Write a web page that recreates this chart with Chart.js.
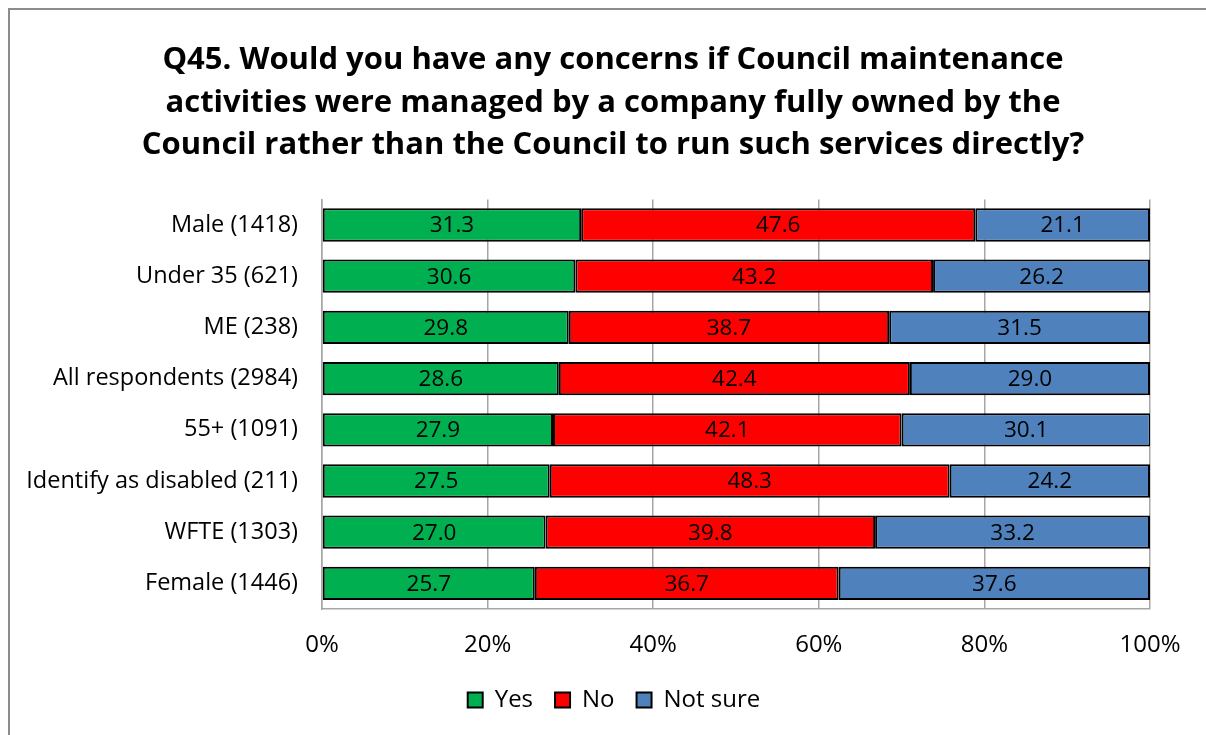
<!DOCTYPE html>
<html>
<head>
<meta charset="utf-8">
<script src="https://cdn.jsdelivr.net/npm/chart.js@4"></script>
<style>
    html, body { margin: 0; padding: 0; background: #fff; overflow: hidden; }
    #wrap { position: relative; width: 1206px; height: 735px; }
    #frame { position: absolute; left: 8px; top: 8px; right: -10px; bottom: -10px;
             border-top: 2px solid #8c8c8c; border-left: 2px solid #8c8c8c; }
    canvas { position: absolute; left: 0; top: 0; }
</style>
</head>
<body>
<div id="wrap">
    <div id="frame"></div>
    <canvas id="chart" width="1206" height="735"></canvas>
</div>
<script>
// Data
const titleLines = [
    'Q45. Would you have any concerns if Council maintenance',
    'activities were managed by a company fully owned by the',
    'Council rather than the Council to run such services directly?'
];
const categories = ['Male (1418)', 'Under 35 (621)', 'ME (238)', 'All respondents (2984)',
    '55+ (1091)', 'Identify as disabled (211)', 'WFTE (1303)', 'Female (1446)'];
const yesValues = [31.3, 30.6, 29.8, 28.6, 27.9, 27.5, 27.0, 25.7];
const noValues = [47.6, 43.2, 38.7, 42.4, 42.1, 48.3, 39.8, 36.7];
const notSureValues = [21.1, 26.2, 31.5, 29.0, 30.1, 24.2, 33.2, 37.6];
const xTicks = [0, 20, 40, 60, 80, 100];

const FONT = '"Open Sans", Lato, sans-serif';

// draws the value in the middle of every bar segment
const segmentLabels = {
    id: 'segmentLabels',
    afterDatasetsDraw(chart) {
        const ctx = chart.ctx;
        ctx.save();
        ctx.font = '22.5px ' + FONT;
        ctx.fillStyle = '#000';
        ctx.textAlign = 'center';
        ctx.textBaseline = 'middle';
        chart.data.datasets.forEach((ds, i) => {
            chart.getDatasetMeta(i).data.forEach((bar, j) => {
                const cx = (bar.x + bar.base) / 2;
                ctx.fillText(ds.data[j].toFixed(1), cx, bar.y + 1);
            });
        });
        ctx.restore();
    }
};

// title and legend sit a bit right of the canvas centre in the original
const boxShift = {
    id: 'boxShift',
    afterLayout(chart) {
        chart.legend.left += 30;
        chart.legend.right += 30;
        chart.titleBlock.left += 29;
        chart.titleBlock.right += 29;
    }
};

const ctx = document.getElementById('chart').getContext('2d');
new Chart(ctx, {
    type: 'bar',
    data: {
        labels: categories,
        datasets: [
            { label: 'Yes', data: yesValues, backgroundColor: '#00B050' },
            { label: 'No', data: noValues, backgroundColor: '#FF0000' },
            { label: 'Not sure', data: notSureValues, backgroundColor: '#4F81BD' }
        ].map(d => Object.assign(d, { borderColor: '#000', borderWidth: 2, borderSkipped: false }))
    },
    options: {
        indexAxis: 'y',
        responsive: false,
        animation: false,
        categoryPercentage: 1,
        barPercentage: 0.65,
        layout: { padding: { left: 18, right: 56, top: 33, bottom: 13 } },
        plugins: {
            title: {
                display: true,
                text: titleLines,
                color: '#000',
                font: { family: FONT, size: 31, weight: 'bold', lineHeight: 1.37 },
                padding: { top: 6, bottom: 33 }
            },
            legend: {
                position: 'bottom',
                labels: {
                    color: '#000',
                    font: { family: FONT, size: 24 },
                    boxWidth: 15,
                    boxHeight: 15,
                    padding: 22
                }
            },
            tooltip: { enabled: false }
        },
        scales: {
            x: {
                stacked: true,
                min: 0,
                max: 100,
                afterBuildTicks: s => { s.ticks = xTicks.map(v => ({ value: v })); },
                afterFit: s => { s.height = 57; },
                ticks: {
                    callback: v => v + '%',
                    color: '#000',
                    font: { family: FONT, size: 24 },
                    padding: 22
                },
                grid: { color: '#a6a6a6', lineWidth: 1.5, drawTicks: false },
                border: { color: '#a6a6a6', width: 1.5 }
            },
            y: {
                stacked: true,
                afterFit: s => { s.width = 304; },
                ticks: {
                    color: '#000',
                    font: { family: FONT, size: 23.5 },
                    padding: 24
                },
                grid: { display: false, drawTicks: false },
                border: { color: '#a6a6a6', width: 1.5 }
            }
        }
    },
    plugins: [segmentLabels, boxShift]
});
</script>
</body>
</html>
